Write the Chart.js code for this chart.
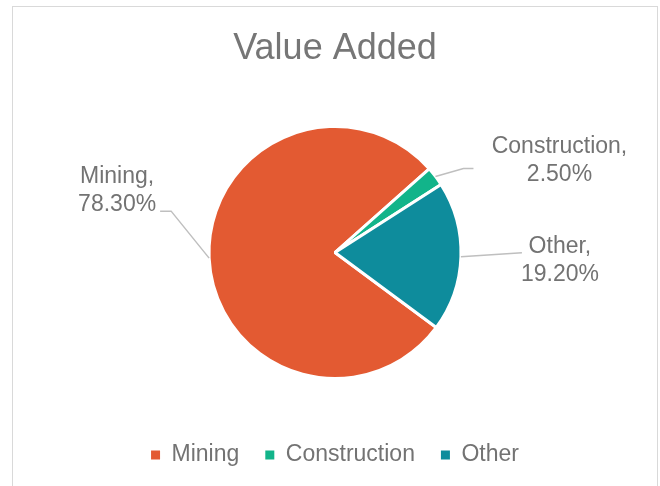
<!DOCTYPE html>
<html>
<head>
<meta charset="utf-8">
<script src="https://cdn.jsdelivr.net/npm/chart.js@4"></script>
<style>
  html, body { margin: 0; padding: 0; background: #fff; overflow: hidden; }
  #frame { position: absolute; left: 12px; top: 6px; width: 644px; height: 520px; border: 1.5px solid #d9d9d9; }
  #myChart { position: absolute; left: 0; top: 0; }
</style>
</head>
<body>
<div id="frame"></div>
<canvas id="myChart" width="660" height="486"></canvas>
<script>
const sectors = ['Mining', 'Construction', 'Other'];
const shares = [78.3, 2.5, 19.2];
const sectorColors = ['#e35a32', '#12b48a', '#0e8c9c'];

// where each data label sits, relative to the middle of its slice's edge
const labelOffsets = [
  { dx: -92, dy: -75, elbow: [-38, -47], end: [-49, -47] },
  { dx: 124, dy: -23, elbow: [28, -8], end: [38, -8] },
  { dx: 99, dy: -4, elbow: [61, -4], end: [61, -4] },
];

const textGrey = '#737373';
Chart.defaults.font.family = "'Liberation Sans', Arial, sans-serif";

const dataLabels = {
  id: 'dataLabels',
  afterDatasetsDraw(chart) {
    const ctx = chart.ctx;
    const meta = chart.getDatasetMeta(0);
    meta.data.forEach((arc, i) => {
      const p = arc.getProps(['x', 'y', 'startAngle', 'endAngle', 'outerRadius'], true);
      const mid = (p.startAngle + p.endAngle) / 2;
      const ex = p.x + Math.cos(mid) * p.outerRadius;
      const ey = p.y + Math.sin(mid) * p.outerRadius;
      const o = labelOffsets[i];

      ctx.save();
      ctx.strokeStyle = '#bfbfbf';
      ctx.lineWidth = 1.5;
      ctx.beginPath();
      ctx.moveTo(ex, ey);
      ctx.lineTo(ex + o.elbow[0], ey + o.elbow[1]);
      ctx.lineTo(ex + o.end[0], ey + o.end[1]);
      ctx.stroke();

      ctx.fillStyle = textGrey;
      ctx.font = "23px 'Liberation Sans', Arial, sans-serif";
      ctx.textAlign = 'center';
      ctx.textBaseline = 'alphabetic';
      const lines = [sectors[i] + ',', shares[i].toFixed(2) + '%'];
      lines.forEach((t, k) => ctx.fillText(t, ex + o.dx, ey + o.dy + k * 28));
      ctx.restore();
    });
  }
};

const defaultLabels = Chart.overrides.pie.plugins.legend.labels.generateLabels;

const data = {
  labels: sectors,
  datasets: [{
    data: shares,
    backgroundColor: sectorColors,
    borderColor: '#ffffff',
    borderWidth: 3,
    radius: 126,
  }]
};

const config = {
  type: 'pie',
  data: data,
  options: {
    responsive: false,
    animation: false,
    rotation: 126.5,
    layout: { padding: { left: 10, right: 0, top: 0, bottom: 9.5 } },
    plugins: {
      title: {
        display: true,
        text: 'Value Added',
        color: '#767676',
        font: { size: 36, weight: 'normal' },
        padding: { top: 27, bottom: 17.3 },
      },
      legend: {
        position: 'bottom',
        labels: {
          boxWidth: 9,
          boxHeight: 9,
          padding: 26,
          color: textGrey,
          font: { size: 23 },
          generateLabels(chart) {
            return defaultLabels(chart).map(item => ({ ...item, lineWidth: 0 }));
          },
        },
      },
      tooltip: { enabled: false },
    },
  },
  plugins: [dataLabels],
};

const myChart = new Chart(document.getElementById('myChart'), config);
</script>
</body>
</html>
